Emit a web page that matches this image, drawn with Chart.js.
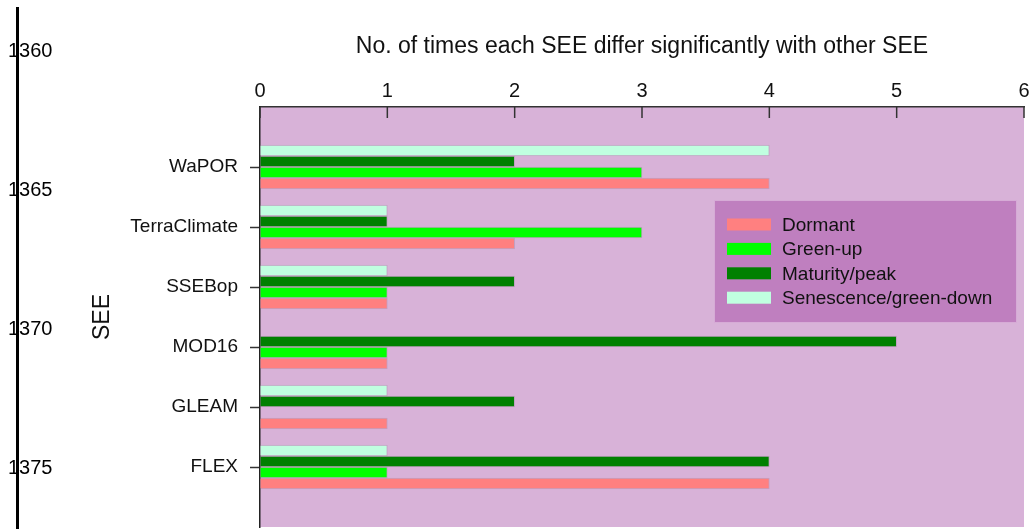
<!DOCTYPE html>
<html>
<head>
<meta charset="utf-8">
<script src="https://cdn.jsdelivr.net/npm/chart.js@4/dist/chart.umd.min.js"></script>
<style>
  body { margin: 0; background: #fff; }
  #wrap { position: relative; width: 1031px; height: 529px; }
  #margin-line { position: absolute; left: 16px; top: 7px; width: 2.5px; height: 522px; background: #000; z-index: 2; }
  .lineno { position: absolute; left: 8px; font: 20px "Liberation Sans", Arial, sans-serif; color: #000; line-height: 20px; z-index: 1; }
</style>
</head>
<body>
<div id="wrap">
  <canvas id="chart" width="1031" height="529"></canvas>
  <div id="margin-line"></div>
</div>
<script>
const categories = ['WaPOR', 'TerraClimate', 'SSEBop', 'MOD16', 'GLEAM', 'FLEX'];
const dormant = [4, 2, 1, 1, 1, 4];
const greenUp = [3, 3, 1, 1, 0, 1];
const maturity = [2, 1, 2, 5, 2, 4];
const senescence = [4, 1, 1, 0, 1, 1];
const xTicks = [0, 1, 2, 3, 4, 5, 6];
const lineNumbers = [1360, 1365, 1370, 1375];
const lineNumberY = [40, 179, 318, 457];

// page line numbers from the manuscript margin
const wrap = document.getElementById('wrap');
lineNumbers.forEach((n, i) => {
    const d = document.createElement('div');
    d.className = 'lineno';
    d.textContent = n;
    d.style.top = lineNumberY[i] + 'px';
    wrap.appendChild(d);
});

// empty slot above and below the categories, like the original axis
const labels = [''].concat(categories, ['']);
const pad = arr => [null].concat(arr, [null]);

const font = 'Liberation Sans, Arial, sans-serif';

const plotBackground = {
    id: 'plotBackground',
    beforeDraw(chart) {
        const { ctx, chartArea: a } = chart;
        ctx.save();
        ctx.fillStyle = '#D8B2D8';
        ctx.fillRect(a.left, a.top, a.right - a.left, a.bottom - a.top);
        ctx.restore();
    }
};

// tick marks on the top axis point into the plot
const innerTicks = {
    id: 'innerTicks',
    afterDraw(chart) {
        const { ctx, chartArea: a } = chart;
        const x = chart.scales.x;
        ctx.save();
        ctx.strokeStyle = '#333';
        ctx.lineWidth = 1.5;
        x.ticks.forEach(t => {
            const px = x.getPixelForValue(t.value);
            ctx.beginPath();
            ctx.moveTo(px, a.top);
            ctx.lineTo(px, a.top + 11);
            ctx.stroke();
        });
        ctx.restore();
    }
};

const boxLegend = {
    id: 'boxLegend',
    afterDraw(chart) {
        const { ctx } = chart;
        const sets = chart.data.datasets.slice().reverse();
        ctx.save();
        ctx.fillStyle = '#BF7FBF';
        ctx.fillRect(714, 200, 303, 123);
        ctx.strokeStyle = 'rgba(230,200,230,0.6)';
        ctx.lineWidth = 1;
        ctx.strokeRect(714.5, 200.5, 302, 122);
        ctx.font = '19px ' + font;
        ctx.textBaseline = 'middle';
        sets.forEach((ds, i) => {
            const cy = 224.5 + i * 24.4;
            ctx.fillStyle = ds.backgroundColor;
            ctx.fillRect(727, cy - 6, 44, 12);
            ctx.fillStyle = '#111';
            ctx.fillText(ds.label, 782, cy + 1);
        });
        ctx.restore();
    }
};

new Chart(document.getElementById('chart'), {
    type: 'bar',
    data: {
        labels: labels,
        datasets: [
            { label: 'Senescence/green-down', data: pad(senescence), backgroundColor: '#C0FFE0' },
            { label: 'Maturity/peak', data: pad(maturity), backgroundColor: '#008000' },
            { label: 'Green-up', data: pad(greenUp), backgroundColor: '#00FF00' },
            { label: 'Dormant', data: pad(dormant), backgroundColor: '#FF8080' }
        ]
    },
    options: {
        indexAxis: 'y',
        responsive: false,
        animation: false,
        barThickness: 11,
        borderWidth: 1,
        borderColor: 'rgba(0,0,0,0.1)',
        layout: { padding: { left: 85, right: 7, top: 0, bottom: 2 } },
        plugins: {
            legend: { display: false },
            tooltip: { enabled: false },
            title: {
                display: true,
                fullSize: false,
                text: 'No. of times each SEE differ significantly with other SEE',
                color: '#111',
                font: { size: 23, family: font, weight: 'normal' },
                padding: { top: 33, bottom: 5 }
            }
        },
        scales: {
            x: {
                position: 'top',
                min: 0,
                max: 6,
                afterBuildTicks: s => { s.ticks = xTicks.map(v => ({ value: v })); },
                afterFit: s => { s.height = 107 - 65.6; s.paddingLeft = 0; s.paddingRight = 0; },
                ticks: { color: '#111', padding: 4, font: { size: 20, family: font } },
                grid: { drawOnChartArea: false, drawTicks: false },
                border: { display: true, color: '#333', width: 1.5 }
            },
            y: {
                offset: false,
                afterFit: s => { s.width = 175; s.paddingTop = 0; s.paddingBottom = 0; },
                ticks: { color: '#111', padding: 12, autoSkip: false, font: { size: 19, family: font } },
                grid: {
                    offset: false,
                    drawOnChartArea: false,
                    tickLength: 10,
                    tickWidth: 1.5,
                    tickColor: c => (c.index === 0 || c.index === labels.length - 1) ? 'rgba(0,0,0,0)' : '#333'
                },
                border: { display: true, color: '#222', width: 1.5 },
                title: { display: true, text: 'SEE', color: '#111', font: { size: 23, family: font } }
            }
        }
    },
    plugins: [plotBackground, innerTicks, boxLegend]
});
</script>
</body>
</html>
